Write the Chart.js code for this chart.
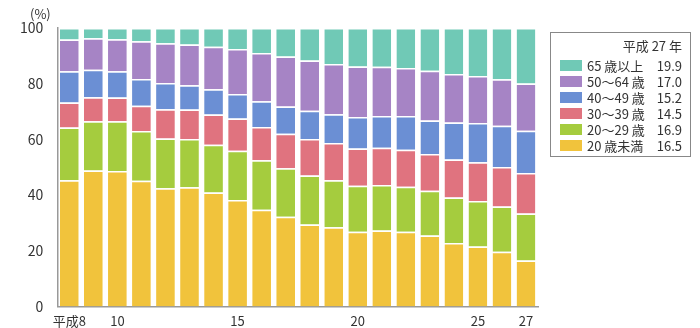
<!DOCTYPE html>
<html lang="ja">
<head>
  <meta charset="UTF-8">
  <title>年齢階層別構成比</title>
  <script src="https://cdn.jsdelivr.net/npm/chart.js"></script>
  <style>
    body {
      margin: 0;
      background: #ffffff;
      font-family: "Noto Sans CJK JP", "Noto Sans", sans-serif;
    }
    .wrap {
      position: relative;
      width: 700px;
      height: 328px;
    }
    #chart {
      position: absolute;
      left: 0;
      top: 0;
    }
    .unit {
      position: absolute;
      left: 30px;
      top: 4px;
      font-size: 13px;
      color: #333;
    }
    .legend {
      position: absolute;
      left: 550px;
      top: 32px;
      width: 141px;
      height: 125px;
      border: 1px solid #888;
      box-sizing: border-box;
      padding: 5px 8px 0 9px;
      font-size: 13px;
      color: #333;
    }
    .legend .ttl {
      text-align: right;
      margin-bottom: 3px;
      line-height: 16px;
    }
    .legend .row {
      display: flex;
      align-items: center;
      height: 16px;
    }
    .legend .sw {
      width: 22px;
      height: 11px;
      margin-right: 5px;
    }
    .legend .lbl { flex: 1; }
    .legend .val { text-align: right; }
  </style>
</head>
<body>
  <div class="wrap">
    <canvas id="chart" width="700" height="328"></canvas>
    <div class="unit">(%)</div>
    <div class="legend" id="legend"></div>
  </div>

  <script>
    // 平成8年〜27年
    const years = [8, 9, 10, 11, 12, 13, 14, 15, 16, 17, 18, 19, 20, 21, 22, 23, 24, 25, 26, 27];
    const shownYears = [8, 10, 15, 20, 25, 27];

    const under20 = [45.3, 48.8, 48.6, 45.1, 42.4, 42.8, 40.9, 38.2, 34.7, 32.2, 29.4, 28.4, 26.8, 27.3, 26.8, 25.5, 22.8, 21.5, 19.6, 16.5];
    const age20s  = [19.0, 17.7, 17.9, 17.9, 17.9, 17.3, 17.2, 17.7, 17.8, 17.4, 17.6, 16.9, 16.5, 16.3, 16.2, 16.0, 16.3, 16.4, 16.3, 16.9];
    const age30s  = [8.9, 8.6, 8.5, 9.1, 10.5, 10.6, 10.8, 11.6, 11.9, 12.4, 13.1, 13.4, 13.4, 13.4, 13.3, 13.2, 13.7, 13.9, 14.2, 14.5];
    const age40s  = [11.3, 9.9, 9.5, 9.6, 9.4, 8.7, 9.1, 8.8, 9.3, 9.8, 10.2, 10.3, 11.3, 11.4, 12.1, 12.1, 13.3, 14.1, 14.8, 15.2];
    const age50_64 = [11.4, 11.3, 11.5, 13.5, 14.3, 14.7, 15.3, 16.2, 17.3, 18.0, 18.0, 18.1, 18.2, 17.7, 17.2, 17.8, 17.4, 16.9, 16.7, 17.0];
    const over65  = [4.1, 3.7, 4.0, 4.8, 5.5, 5.9, 6.7, 7.5, 9.0, 10.2, 11.7, 12.9, 13.8, 13.9, 14.4, 15.4, 16.5, 17.2, 18.4, 19.9];

    const seriesNames = ['20 歳未満', '20～29 歳', '30～39 歳', '40～49 歳', '50～64 歳', '65 歳以上'];
    const seriesData = [under20, age20s, age30s, age40s, age50_64, over65];
    const colors = ['#f1c33c', '#a5cc3e', '#e0737f', '#6b8fd4', '#a684c5', '#70c9b6'];
    const legendValues = ['16.5', '16.9', '14.5', '15.2', '17.0', '19.9'];

    // legend (top row = 65歳以上)
    const lg = document.getElementById('legend');
    let html = '<div class="ttl">平成 27 年</div>';
    for (let i = seriesNames.length - 1; i >= 0; i--) {
      html += `<div class="row"><span class="sw" style="background:${colors[i]}"></span>` +
              `<span class="lbl">${seriesNames[i]}</span><span class="val">${legendValues[i]}</span></div>`;
    }
    lg.innerHTML = html;

    const datasets = seriesData.map((d, i) => ({
      label: seriesNames[i],
      data: d,
      backgroundColor: colors[i],
      borderColor: 'rgba(255,255,255,0.85)',
      borderWidth: { top: 1.5 },
      borderSkipped: false,
      categoryPercentage: 1.0,
      barPercentage: 0.78
    }));

    new Chart(document.getElementById('chart'), {
      type: 'bar',
      data: { labels: years, datasets: datasets },
      options: {
        responsive: false,
        animation: false,
        layout: { padding: { left: 14, right: 162, top: 28, bottom: 0 } },
        plugins: {
          legend: { display: false },
          tooltip: { enabled: false }
        },
        scales: {
          x: {
            stacked: true,
            grid: { display: false },
            border: { display: true, color: '#999', width: 1.5 },
            ticks: {
              autoSkip: false,
              maxRotation: 0,
              padding: -1,
              color: '#333',
              font: { family: '"Noto Sans CJK JP", sans-serif', size: 13 },
              callback: function (v, i) {
                const y = years[i];
                if (i === 0) return '平成8';
                return shownYears.includes(y) ? String(y) : '';
              }
            }
          },
          y: {
            stacked: true,
            min: 0,
            max: 100,
            grid: { display: false },
            border: { display: true, color: '#999', width: 1.5 },
            ticks: {
              stepSize: 20,
              padding: 6,
              color: '#333',
              font: { family: '"Noto Sans CJK JP", sans-serif', size: 14 }
            }
          }
        }
      }
    });
  </script>
</body>
</html>
